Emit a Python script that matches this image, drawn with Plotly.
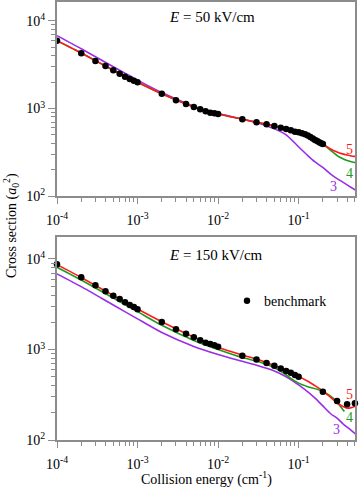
import plotly.graph_objects as go

# ---------------- data ----------------
# Top panel: E = 50 kV/cm
bench50_x = [1e-4, 2e-4, 3e-4, 4e-4, 5e-4, 6e-4, 7e-4, 8e-4, 9e-4, 1e-3,
             2e-3, 3e-3, 4e-3, 5e-3, 6e-3, 7e-3, 8e-3, 9e-3, 1e-2,
             2e-2, 3e-2, 4e-2, 5e-2, 6e-2, 7e-2, 8e-2, 9e-2, 0.1,
             0.11, 0.12, 0.13, 0.14, 0.15, 0.16, 0.17, 0.18, 0.19, 0.2]
bench50_y = [5960, 4275, 3490, 3060, 2735, 2500, 2310, 2175, 2080, 1993,
             1475, 1240, 1125, 1040, 980, 930, 896, 880, 865,
             753, 695, 660, 631, 603, 583, 563, 543, 535,
             522, 507, 490, 472, 453, 437, 424, 412, 402, 392]

curve_x = [1e-4, 2e-4, 5e-4, 1e-3, 2e-3, 5e-3, 1e-2, 2e-2, 3e-2, 5e-2, 7e-2,
           0.1, 0.13, 0.16, 0.2, 0.25, 0.3, 0.35, 0.4, 0.45, 0.5, 0.53]
c50_n5 = [5950, 4300, 2740, 1990, 1470, 1040, 865, 755, 695, 630, 583,
          537, 490, 437, 392, 345, 318, 303, 294, 287, 283, 281]
c50_n4 = [5950, 4300, 2740, 1990, 1470, 1040, 865, 755, 695, 630, 583,
          537, 490, 437, 392, 332, 290, 268, 254, 246, 241, 240]
c50_n3 = [6800, 4820, 3000, 2110, 1520, 1060, 875, 757, 690, 585, 500,
          365, 290, 245, 212, 178, 158, 145, 134, 125, 118, 115]

# Bottom panel: E = 150 kV/cm
bench150_x = [1e-4, 2e-4, 3e-4, 4e-4, 5e-4, 6e-4, 7e-4, 8e-4, 9e-4, 1e-3,
              2e-3, 3e-3, 4e-3, 5e-3, 6e-3, 7e-3, 8e-3, 9e-3, 1e-2,
              2e-2, 3e-2, 4e-2, 5e-2, 6e-2, 7e-2, 8e-2, 9e-2, 0.1,
              0.2, 0.3, 0.4, 0.5]
bench150_y = [8730, 6280, 5120, 4395, 3935, 3615, 3325, 3105, 2950, 2780,
              2010, 1670, 1496, 1365, 1265, 1190, 1150, 1112, 1074,
              853, 776, 708, 662, 617, 580, 555, 523, 500,
              342, 270, 248, 254]

c150_n5_x = curve_x
c150_n5 = [8650, 6250, 3950, 2800, 2030, 1370, 1060, 870, 785, 665, 585,
           505, 445, 398, 350, 295, 258, 236, 225, 228, 236, 240]
c150_n4_x = [1e-4, 2e-4, 5e-4, 1e-3, 2e-3, 5e-3, 1e-2, 2e-2, 3e-2, 5e-2, 6.5e-2,
             0.08, 0.1, 0.13, 0.19, 0.27, 0.37]
c150_n4 = [8100, 5850, 3700, 2620, 1850, 1260, 1000, 815, 745, 630, 550,
           480, 425, 388, 351, 289, 207]
c150_n3 = [6850, 4950, 3100, 2180, 1540, 1080, 880, 740, 670, 580, 500,
           406, 340, 290, 238, 195, 174, 153, 139, 128, 118, 112]

# ticks
xtick_vals = [1e-4, 1e-3, 1e-2, 1e-1]
xtick_text = ["10<sup>-4</sup>", "10<sup>-3</sup>", "10<sup>-2</sup>", "10<sup>-1</sup>"]
ytick_vals = [1e2, 1e3, 1e4]
ytick_text = ["10<sup>2</sup>", "10<sup>3</sup>", "10<sup>4</sup>"]

# ---------------- styles ----------------
RED = "#ff1a1a"
GREEN = "#1f9a1f"
PURPLE = "#9a2ee6"
GRAY = "#8c8c8c"
FONT = "Liberation Serif"

xminor = [m * 10.0 ** e for e in range(-4, 0) for m in range(2, 10)]
yminor = [m * 10.0 ** e for e in range(2, 5) for m in range(2, 10)]

fig = go.Figure()


def add_line(x, y, color, xa, ya):
    fig.add_trace(go.Scatter(x=x, y=y, mode="lines", line=dict(color=color, width=1.6, shape="spline", smoothing=0.6),
                             xaxis=xa, yaxis=ya, showlegend=False, hoverinfo="skip"))


# top panel (x2, y2)
add_line(curve_x, c50_n3, PURPLE, "x2", "y2")
add_line(curve_x, c50_n4, GREEN, "x2", "y2")
add_line(curve_x, c50_n5, RED, "x2", "y2")
fig.add_trace(go.Scatter(x=bench50_x, y=bench50_y, mode="markers", marker=dict(color="black", size=6.5),
                         xaxis="x2", yaxis="y2", showlegend=False))

# bottom panel (x, y)
add_line(curve_x, c150_n3, PURPLE, "x", "y")
add_line(c150_n4_x, c150_n4, GREEN, "x", "y")
add_line(c150_n5_x, c150_n5, RED, "x", "y")
fig.add_trace(go.Scatter(x=bench150_x, y=bench150_y, mode="markers", marker=dict(color="black", size=6.5),
                         xaxis="x", yaxis="y", showlegend=False, cliponaxis=False))

xcommon = dict(type="log", range=[-4, -0.3], tickmode="array", tickvals=xtick_vals, ticktext=xtick_text,
               ticks="outside", ticklen=6, tickwidth=1.2, tickcolor=GRAY, automargin=False, ticklabelstandoff=4,
               minor=dict(tickmode="array", tickvals=xminor, ticks="outside", ticklen=4, tickcolor=GRAY, tickwidth=1),
               showline=True, linecolor=GRAY, linewidth=2, mirror=True, showgrid=False, zeroline=False,
               tickfont=dict(family=FONT, size=14, color="black"))
ycommon = dict(type="log", tickmode="array", tickvals=ytick_vals, ticktext=ytick_text,
               ticks="outside", ticklen=7, tickwidth=1.2, tickcolor=GRAY, automargin=False,
               minor=dict(tickmode="array", tickvals=yminor, ticks="outside", ticklen=4, tickcolor=GRAY, tickwidth=1),
               showline=True, linecolor=GRAY, linewidth=2, mirror=True, showgrid=False, zeroline=False,
               tickfont=dict(family=FONT, size=14, color="black"))

PT, PB = 2, 47
H = 487
PH = H - PT - PB


def py2paper(py):
    return (H - PB - py) / PH


def px2paper(px):
    return (px - 57) / (359 - 57 - 4)


fig.update_layout(
    width=359, height=487,
    margin=dict(l=57, r=4, t=PT, b=PB),
    paper_bgcolor="white", plot_bgcolor="white",
    xaxis=dict(**xcommon, anchor="y"),
    yaxis=dict(**ycommon, domain=[0, py2paper(237)], range=[2, 4.243], anchor="x"),
    xaxis2=dict(**xcommon, anchor="y2"),
    yaxis2=dict(**ycommon, domain=[py2paper(196), 1], range=[2, 4.217], anchor="x2"),
)


def note(text, px, py, color="black", size=14, xanchor="center", **kw):
    return dict(text=text, x=px2paper(px), y=py2paper(py), xref="paper", yref="paper", showarrow=False,
                xanchor=xanchor, yanchor="middle", font=dict(family=FONT, size=size, color=color), **kw)


ann = [
    note("Cross section (<i>a</i><sub>0</sub><sup>2</sup>)", 11, 226, textangle=-90),
    note("Collision energy (cm<sup>-1</sup>)", 206, 478),
    note("<i>E</i> = 50 kV/cm", 167, 17, size=15, xanchor="left"),
    note("<i>E</i> = 150 kV/cm", 167, 255, size=15, xanchor="left"),
    note("benchmark", 262, 301, xanchor="left"),
]
for lab, col, px, py in [("5", RED, 349, 149), ("4", GREEN, 349, 173), ("3", PURPLE, 333, 186),
                         ("5", RED, 349, 394), ("4", GREEN, 349, 417), ("3", PURPLE, 336, 429)]:
    ann.append(note(lab, px, py, color=col))
fig.update_layout(annotations=ann)

# legend dot for benchmark
fig.add_shape(type="circle", xref="paper", yref="paper",
              x0=px2paper(243.8), x1=px2paper(250.2), y0=py2paper(304), y1=py2paper(297.6),
              fillcolor="black", line=dict(color="black", width=0))

fig.write_html("out.html", config={"displayModeBar": False},
               post_script="document.body.style.margin='0';document.body.style.overflow='hidden';")
